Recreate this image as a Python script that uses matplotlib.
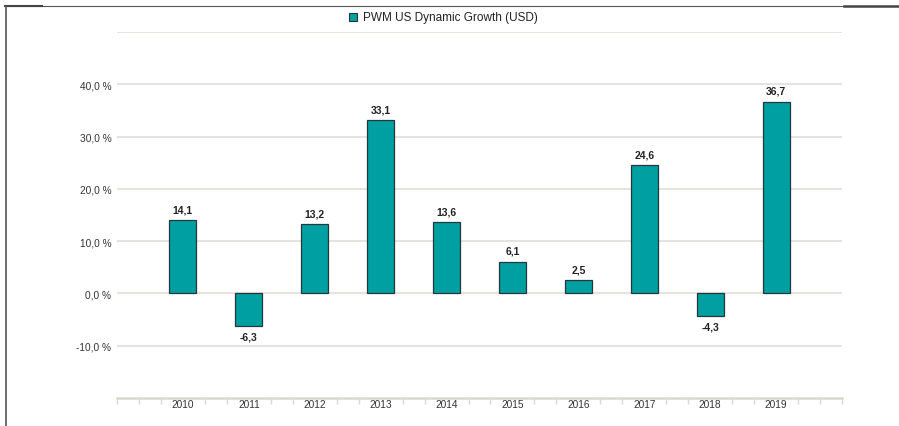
import matplotlib
matplotlib.use("Agg")
import matplotlib.pyplot as plt
from matplotlib.patches import Rectangle
from matplotlib.lines import Line2D
import numpy as np

years = ["2010", "2011", "2012", "2013", "2014", "2015", "2016", "2017", "2018", "2019"]
returns = [14.1, -6.3, 13.2, 33.1, 13.6, 6.1, 2.5, 24.6, -4.3, 36.7]
y_ticks = [-10, 0, 10, 20, 30, 40]
series_name = "PWM US Dynamic Growth (USD)"

plt.rcParams["font.family"] = ["Liberation Sans", "DejaVu Sans"]

W, H = 899, 427
fig = plt.figure(figsize=(W / 100, H / 100), dpi=100)
fig.patch.set_facecolor("white")

bar_color = "#00A0A2"
edge_color = "#24383a"
grid_color = "#e3e0d8"

ax = fig.add_axes([117 / W, 1 - 399 / H, (842 - 117) / W, (399 - 33) / H])
x = np.arange(1, len(years) + 1)
ax.set_xlim(0, len(years) + 1)
ax.set_ylim(-20, 50)

for v in range(-10, 51, 10):
    ax.axhline(v, color=grid_color, lw=1.3, zorder=0)

ax.bar(x, returns, width=0.41, color=bar_color, edgecolor=edge_color, linewidth=0.9, zorder=3)

for xi, v in zip(x, returns):
    lbl = f"{v:.1f}".replace(".", ",")
    if v >= 0:
        ax.annotate(lbl, (xi, v), xytext=(0, 4), textcoords="offset points",
                    ha="center", va="bottom", fontsize=7.5, color="#222222", fontweight="bold")
    else:
        ax.annotate(lbl, (xi, v), xytext=(0, -4), textcoords="offset points",
                    ha="center", va="top", fontsize=7.5, color="#222222", fontweight="bold")

for s in ["top", "right", "left"]:
    ax.spines[s].set_visible(False)
ax.spines["bottom"].set_color("#dcd8ce")
ax.spines["bottom"].set_linewidth(1.8)

ax.set_yticks(y_ticks)
ax.set_yticklabels([f"{t:.1f} %".replace(".", ",") for t in y_ticks], fontsize=7.3, color="#333333")
ax.tick_params(axis="y", length=0, pad=4)

ax.set_xticks(x)
ax.set_xticklabels(years, fontsize=7.3, color="#333333")
ax.tick_params(axis="x", length=0, pad=0.5)
minor = [i / 3 for i in range(0, 3 * (len(years) + 1) + 1) if i % 3 != 0 or i == 0 or i == 3 * (len(years) + 1)]
ax.set_xticks(minor, minor=True)
ax.tick_params(axis="x", which="minor", length=4, width=1, color="#dcd8ce", direction="out")

# legend
fig.patches.append(Rectangle((349 / W, 1 - 22 / H), 8 / W, 8 / H, transform=fig.transFigure,
                             facecolor=bar_color, edgecolor=edge_color, lw=0.8))
fig.text(363 / W, 1 - 18 / H, series_name, fontsize=8.5, color="#222222", va="center", ha="left")

# frame lines
fig.add_artist(Line2D([5 / W, 845 / W], [1 - 6.5 / H, 1 - 6.5 / H], color="#555555", lw=0.8))
fig.add_artist(Line2D([844 / W, 1], [1 - 6.5 / H, 1 - 6.5 / H], color="#444444", lw=1.8))
fig.add_artist(Line2D([5 / W, 42 / W], [1 - 6.5 / H, 1 - 6.5 / H], color="#444444", lw=1.5))
fig.add_artist(Line2D([5.5 / W, 5.5 / W], [0, 1 - 6.5 / H], color="#555555", lw=1.2))

fig.savefig("out.png", dpi=100)
